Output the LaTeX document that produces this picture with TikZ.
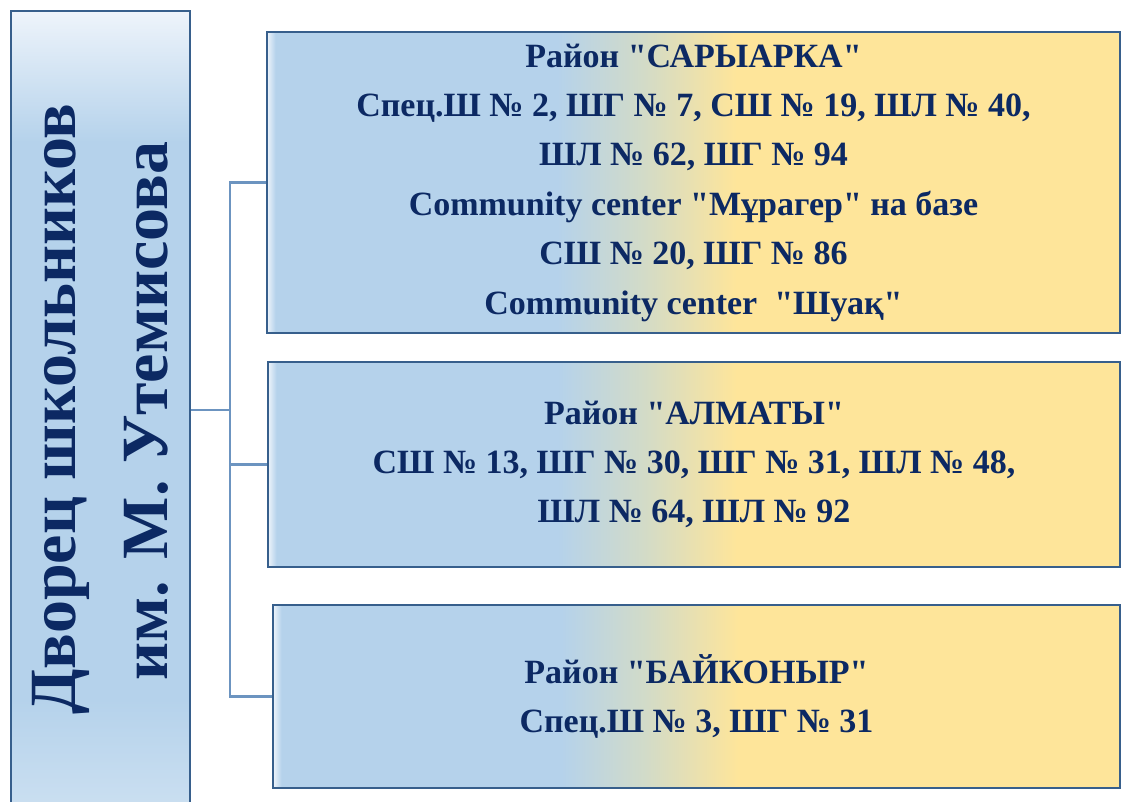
\documentclass[tikz,border=0pt]{standalone}
\usepackage{fontspec}
\newfontfamily\boxserif{Liberation Serif}

\definecolor{navytext}{HTML}{0C2963}
\definecolor{frameblue}{HTML}{375F8C}
\definecolor{linkblue}{HTML}{6C94C0}
\definecolor{paleblue}{HTML}{B5D2EB}
\definecolor{paleyellow}{HTML}{FEE59A}
\definecolor{milkblue}{HTML}{EEF4FB}
\definecolor{midgreen}{HTML}{D2DBC8}

% colours change from left to right, box spans 25bp..75bp
\pgfdeclarehorizontalshading{districtshade}{100bp}{color(0bp)=(milkblue); color(25bp)=(milkblue);
  color(25.5bp)=(paleblue); color(42bp)=(paleblue); color(47bp)=(midgreen);
  color(52.5bp)=(paleyellow); color(100bp)=(paleyellow)}
% colours change from bottom to top
\pgfdeclareverticalshading{palaceshade}{100bp}{color(0bp)=(paleblue!65!white); color(25bp)=(paleblue!65!white);
  color(33bp)=(paleblue); color(67bp)=(paleblue); color(75bp)=(milkblue); color(100bp)=(milkblue)}

\begin{document}
\begin{tikzpicture}[x=1pt,y=-1pt,
    district/.style={rectangle, draw=frameblue, line width=2.2pt, shade, shading=districtshade,
      align=center, text=navytext, inner sep=0pt,
      font=\boxserif\bfseries\fontsize{34}{49.4}\selectfont},
    palace/.style={rectangle, draw=frameblue, line width=2.2pt, shade, shading=palaceshade},
    title/.style={rotate=90, anchor=base, text=navytext, inner sep=0pt,
      font=\boxserif\bfseries\fontsize{66}{80}\selectfont},
    link/.style={draw=linkblue, line width=2.4pt}]
  \useasboundingbox (0,0) rectangle (1122,801);

  % left column, runs past the bottom edge
  \begin{scope}
    \clip (0,0) rectangle (1122,801);
    \node[palace, minimum width=179pt, minimum height=819pt] (palace) at (100.5,420.5) {};
  \end{scope}
  \node[title] (name1) at (75,409) {Дворец школьников};
  \node[title] (name2) at (167,411) {им. М. Утемисова};

  % districts
  \node[district, minimum width=853pt, minimum height=301pt] (sary) at (693.5,182.5)
    {Район "САРЫАРКА"\\Спец.Ш № 2, ШГ № 7, СШ № 19, ШЛ № 40,\\ШЛ № 62, ШГ № 94\\
     Community center "Мұрагер" на базе\\СШ № 20, ШГ № 86\\Community center~ "Шуақ"};
  \node[district, minimum width=852pt, minimum height=205pt] (alm) at (694,464.5)
    {Район "АЛМАТЫ"\\СШ № 13, ШГ № 30, ШГ № 31, ШЛ № 48,\\ШЛ № 64, ШЛ № 92};
  \node[district, minimum width=847pt, minimum height=183pt] (baik) at (696.5,696.5)
    {Район "БАЙКОНЫР"\\Спец.Ш № 3, ШГ № 31};

  % connectors
  \coordinate (hub) at (230,410);
  \draw[link] (palace.east |- hub) -- (hub);
  \draw[link] (hub) |- (sary.west);
  \draw[link] (hub) |- (alm.west);
  \draw[link] (hub) |- (baik.west);
\end{tikzpicture}
\end{document}
